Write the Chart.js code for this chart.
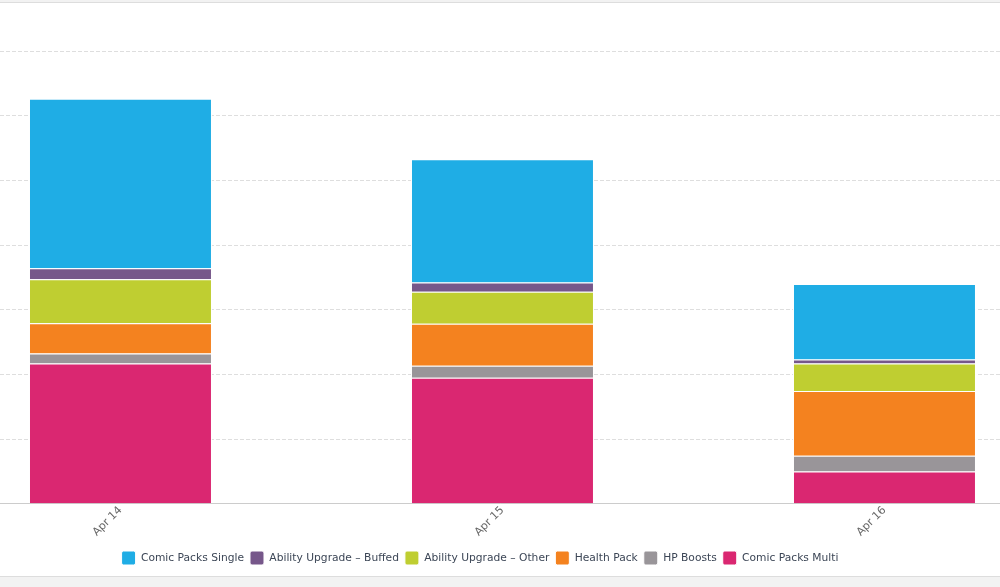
<!DOCTYPE html>
<html>
<head>
<meta charset="utf-8">
<script src="https://cdn.jsdelivr.net/npm/chart.js@4.4.1/dist/chart.umd.min.js"></script>
<style>
  html, body { margin: 0; padding: 0; background: #f2f2f2; }
  .box {
    position: absolute; left: 0; top: 2px; width: 1000px; height: 573px;
    background: #fff; border-top: 1px solid #dddddd; border-bottom: 1px solid #dddddd;
  }
  canvas { display: block; }
</style>
</head>
<body>
<div class="box"><canvas id="myChart" width="1000" height="573"></canvas></div>
<script>
const dates = ['Apr 14', 'Apr 15', 'Apr 16'];
// stacked bottom to top
const comicMulti = [21.7, 19.5, 5.0];
const hpBoosts = [1.55, 1.85, 2.45];
const healthPack = [4.65, 6.5, 10.0];
const upgradeOther = [6.8, 4.95, 4.25];
const upgradeBuffed = [1.7, 1.4, 0.6];
const comicSingle = [26.2, 19.05, 11.7];

const ctx = document.getElementById('myChart').getContext('2d');
const seg = (label, data, color) => ({
    label: label,
    data: data,
    backgroundColor: color,
    borderColor: '#ffffff',
    borderWidth: 1
});
new Chart(ctx, {
    type: 'bar',
    data: {
        labels: dates.map((d, i) => i),
        datasets: [
            seg('Comic Packs Multi', comicMulti, '#da2771'),
            seg('HP Boosts', hpBoosts, '#999599'),
            seg('Health Pack', healthPack, '#f4821f'),
            seg('Ability Upgrade – Other', upgradeOther, '#bfce31'),
            seg('Ability Upgrade – Buffed', upgradeBuffed, '#76578a'),
            seg('Comic Packs Single', comicSingle, '#1fade5')
        ]
    },
    options: {
        responsive: false,
        animation: false,
        layout: {
            padding: { top: 48, left: -40, right: 0, bottom: 1 }
        },
        datasets: {
            bar: { categoryPercentage: 1, barPercentage: 0.479 }
        },
        scales: {
            x: {
                type: 'linear',
                stacked: true,
                offset: false,
                bounds: 'data',
                min: -0.3154,
                max: 2.3024,
                afterBuildTicks: function(scale) {
                    scale.ticks = dates.map((d, i) => ({ value: i }));
                },
                afterFit: function(scale) {
                    scale.height += 14;
                },
                grid: { display: false, offset: false },
                border: { color: '#cccccc' },
                ticks: {
                    padding: -8,
                    minRotation: 45,
                    maxRotation: 45,
                    autoSkip: false,
                    color: '#666666',
                    font: { family: 'DejaVu Sans', size: 11 },
                    callback: function(v) {
                        return dates[v] !== undefined ? dates[v] : '';
                    }
                }
            },
            y: {
                stacked: true,
                min: 0,
                max: 70,
                ticks: { display: false, stepSize: 10 },
                border: { display: false, dash: [4, 2] },
                grid: { color: '#dedede', drawTicks: false }
            }
        },
        plugins: {
            legend: {
                reverse: true,
                labels: {
                    boxWidth: 14,
                    boxHeight: 14,
                    useBorderRadius: true,
                    borderRadius: 2,
                    padding: 6,
                    color: '#3c4656',
                    font: { family: 'DejaVu Sans', size: 10.7 }
                },
                position: 'bottom'
            },
            tooltip: { enabled: false }
        }
    }
});
</script>
</body>
</html>
